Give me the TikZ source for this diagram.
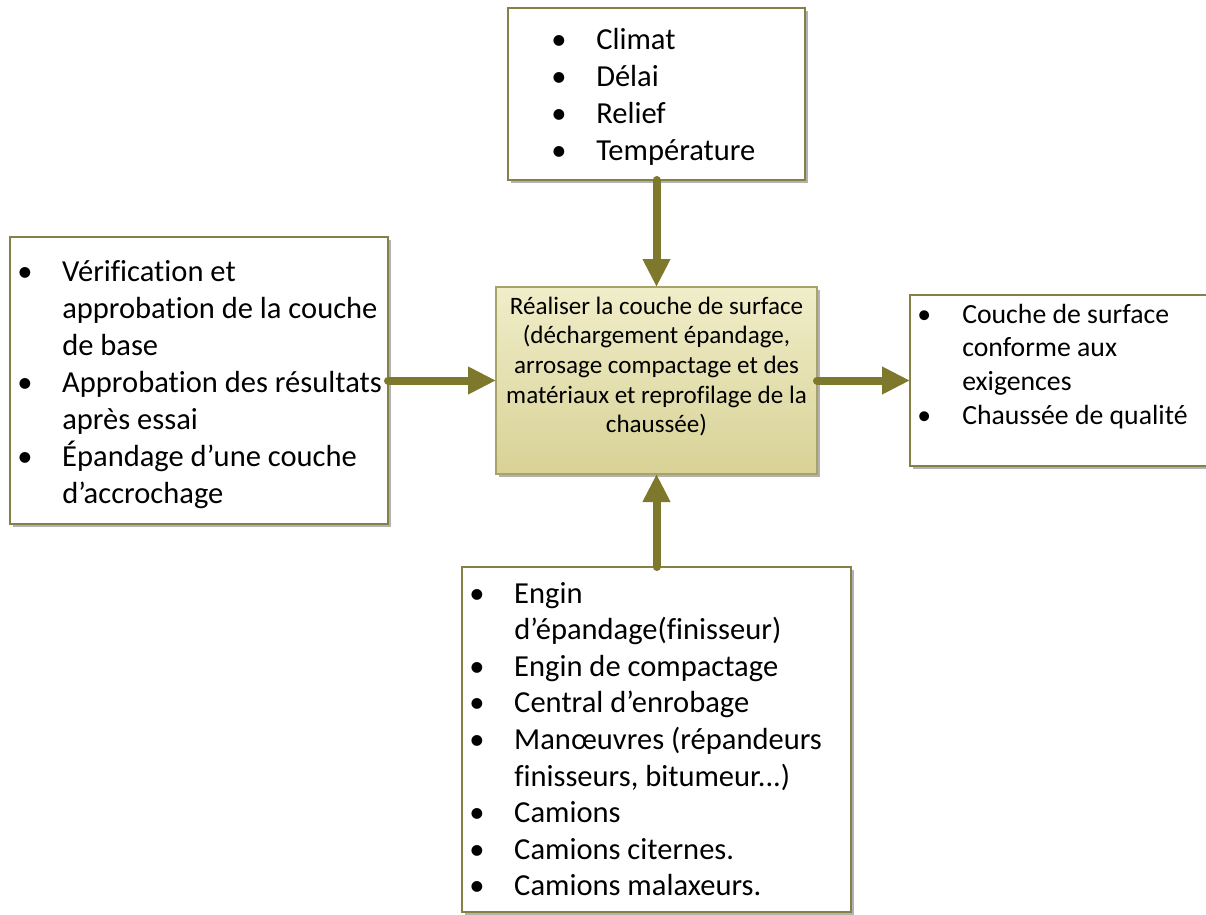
\documentclass[tikz,border=0pt]{standalone}
\usepackage{fontspec}
\setmainfont{Carlito}[Ligatures=NoCommon]
\usetikzlibrary{arrows.meta,shadows}
\definecolor{flowolive}{HTML}{7D782C}
\definecolor{boxline}{HTML}{858045}
\definecolor{midline}{HTML}{A8A36A}
\definecolor{midtop}{HTML}{F0EDC9}
\definecolor{midbot}{HTML}{D8D296}
\newcommand\bl{\makebox[33.75pt][l]{\textbullet}}
\begin{document}
\begin{tikzpicture}[x=0.75pt,y=-0.75pt,
  box/.style={draw=boxline, line width=1.1pt, fill=white, inner sep=0pt, outer sep=0pt,
    general shadow={fill=black!30, shadow xshift=2.5pt, shadow yshift=-2.5pt}},
  midbox/.style={draw=midline, line width=1.1pt, top color=midtop, bottom color=midbot,
    inner sep=0pt, outer sep=0pt,
    general shadow={fill=black!30, shadow xshift=2.5pt, shadow yshift=-2.5pt}},
  listtext/.style={anchor=base west, inner sep=0pt},
  flow/.style={draw=flowolive, line width=6pt, line cap=round,
    -{Triangle[width=19.5pt,length=21pt]}}]
\useasboundingbox (0,0) rectangle (1206,914);

% frames
\node[box, minimum width=222.75pt, minimum height=129pt] (top) at (656.5,94) {};
\node[box, minimum width=283.5pt, minimum height=215.25pt] (left) at (199,380.5) {};
\node[midbox, minimum width=240.75pt, minimum height=140.25pt] (mid) at (656.5,380.5) {};
\node[box, minimum width=225pt, minimum height=128.25pt] (right) at (1060,380.5) {};
\node[box, minimum width=291.75pt, minimum height=258.75pt] (bot) at (656.5,739.5) {};

% texts
\node[listtext, font=\fontsize{22.9}{27.75}\selectfont] (ttop) at (551,49)
  {\begin{tabular}[t]{@{}l@{}}
   \bl Climat\\ \bl Délai\\ \bl Relief\\ \bl Température
   \end{tabular}};
\node[listtext, font=\fontsize{22.9}{27.75}\selectfont] (tleft) at (17,281)
  {\begin{tabular}[t]{@{}l@{}}
   \bl Vérification et\\
   \hspace{33.75pt}approbation de la couche\\
   \hspace{33.75pt}de base\\
   \bl Approbation des résultats\\
   \hspace{33.75pt}après essai\\
   \bl Épandage d’une couche\\
   \hspace{33.75pt}d’accrochage
   \end{tabular}};
\node[anchor=base, inner sep=0pt, font=\fontsize{18.8}{22.3}\selectfont] (tmid) at (656.5,314)
  {\begin{tabular}[t]{@{}c@{}}
   Réaliser la couche de surface\\
   (déchargement épandage,\\
   arrosage compactage et des\\
   matériaux et reprofilage de la\\
   chaussée)
   \end{tabular}};
\node[listtext, font=\fontsize{20.8}{25.3}\selectfont] (tright) at (917,323)
  {\begin{tabular}[t]{@{}l@{}}
   \bl Couche de surface\\
   \hspace{33.75pt}conforme aux\\
   \hspace{33.75pt}exigences\\
   \bl Chaussée de qualité
   \end{tabular}};
\node[listtext, font=\fontsize{22.9}{27.45}\selectfont] (tbot) at (469,603)
  {\begin{tabular}[t]{@{}l@{}}
   \bl Engin\\
   \hspace{33.75pt}d’épandage(finisseur)\\
   \bl Engin de compactage\\
   \bl Central d’enrobage\\
   \bl Manœuvres (répandeurs\\
   \hspace{33.75pt}finisseurs, bitumeur...)\\
   \bl Camions\\
   \bl Camions citernes.\\
   \bl Camions malaxeurs.
   \end{tabular}};

% connectors
\draw[flow] (top.south) -- (mid.north);
\draw[flow] (left.east) -- (mid.west);
\draw[flow] (mid.east) -- (right.west);
\draw[flow] (bot.north) -- (mid.south);
\end{tikzpicture}
\end{document}
